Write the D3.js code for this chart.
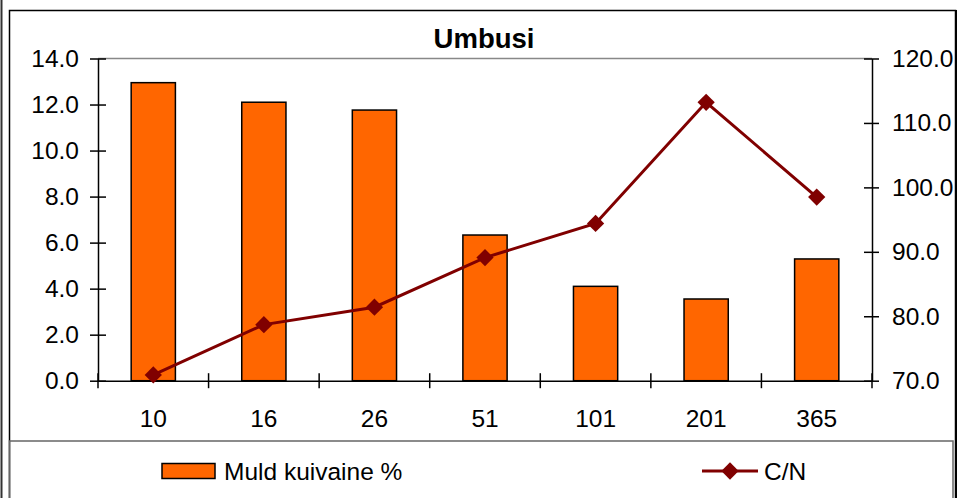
<!DOCTYPE html>
<html><head><meta charset="utf-8">
<script src="https://cdn.jsdelivr.net/npm/d3@7"></script>
<style>html,body{margin:0;padding:0;background:#fff;}svg{display:block;font-family:"Liberation Sans",Arial,sans-serif;}</style>
</head><body>
<svg id="c" width="960" height="498"></svg>
<script>
const categories = ["10","16","26","51","101","201","365"];
const muld = [12.95, 12.1, 11.76, 6.33, 4.1, 3.55, 5.29];
const cn = [70.9, 78.7, 81.4, 89.1, 94.4, 113.2, 98.5];
const leftTicks = [0,2,4,6,8,10,12,14];
const rightTicks = [70,80,90,100,110,120];
const title = "Umbusi";
const seriesNames = ["Muld kuivaine %", "C/N"];

const svg = d3.select("#c");
const L = 98, R = 872, T = 58.5, B = 380.7;

// frames
svg.append("line").attr("x1",1.5).attr("x2",1.5).attr("y1",0).attr("y2",498).attr("stroke","#333").attr("stroke-width",2);
svg.append("rect").attr("x",9.5).attr("y",10.5).attr("width",946).attr("height",500).attr("fill","none").attr("stroke","#000").attr("stroke-width",1.5);
svg.append("line").attr("x1",956).attr("x2",956).attr("y1",10).attr("y2",498).attr("stroke","#000").attr("stroke-width",2);
svg.append("rect").attr("x",9.5).attr("y",441).attr("width",943.5).attr("height",80).attr("fill","none").attr("stroke","#666").attr("stroke-width",1.5);

const x = d3.scaleBand().domain(categories).range([L,R]).paddingInner(0).paddingOuter(0);
const yL = d3.scaleLinear().domain([0,14]).range([B,T]);
const yR = d3.scaleLinear().domain([70,120]).range([B,T]);
const bw = x.bandwidth()/2.5;

// plot top border
svg.append("line").attr("x1",L).attr("x2",R).attr("y1",T).attr("y2",T).attr("stroke","#888").attr("stroke-width",1.5);

// bars
svg.selectAll("rect.bar").data(muld).join("rect").attr("class","bar")
  .attr("x",(d,i)=>x(categories[i])+x.bandwidth()/2-bw/2)
  .attr("width",bw)
  .attr("y",d=>yL(d)).attr("height",d=>B-yL(d))
  .attr("fill","#FF6600").attr("stroke","#000").attr("stroke-width",1.5);

// axes
const axL = d3.axisLeft(yL).tickValues(leftTicks).tickFormat(d3.format(".1f")).tickSizeInner(8).tickSizeOuter(0).tickPadding(11);
const gL = svg.append("g").attr("transform",`translate(${L},0)`).call(axL);
gL.selectAll(".tick line").attr("x1",8).attr("x2",-8);
const axR = d3.axisRight(yR).tickValues(rightTicks).tickFormat(d3.format(".1f")).tickSizeInner(7).tickSizeOuter(0).tickPadding(13);
const gR = svg.append("g").attr("transform",`translate(${R},0)`).call(axR);
gR.selectAll(".tick line").attr("x1",-8).attr("x2",7);
const axB = d3.axisBottom(x).tickSize(0).tickPadding(29);
const gB = svg.append("g").attr("transform",`translate(0,${B})`).call(axB);
[gL,gR,gB].forEach(g=>{
  g.selectAll(".domain").attr("stroke","#000").attr("stroke-width",1.5);
  g.selectAll(".tick line").attr("stroke","#000").attr("stroke-width",1.5);
  g.selectAll("text").attr("font-size",24.5).attr("fill","#000").attr("font-family","Liberation Sans, Arial, sans-serif");
});
// category boundary ticks
const bounds = categories.map(c=>x(c)).concat([R]);
svg.append("g").selectAll("line").data(bounds).join("line")
  .attr("x1",d=>d).attr("x2",d=>d).attr("y1",B-7.5).attr("y2",B+7.5)
  .attr("stroke","#000").attr("stroke-width",1.5);

// line
const line = d3.line().x((d,i)=>x(categories[i])+x.bandwidth()/2).y(d=>yR(d));
svg.append("path").datum(cn).attr("d",line).attr("fill","none").attr("stroke","#800000").attr("stroke-width",3);
const dia = d3.symbol().type(d3.symbolDiamond2).size(190);
svg.selectAll("path.pt").data(cn).join("path").attr("class","pt")
  .attr("d",dia).attr("transform",(d,i)=>`translate(${x(categories[i])+x.bandwidth()/2},${yR(d)})`)
  .attr("fill","#800000");

// title
svg.append("text").attr("x",484).attr("y",48).attr("text-anchor","middle").attr("font-size",27.5).attr("font-weight","bold").text(title);

// legend
svg.append("rect").attr("x",162).attr("y",463.5).attr("width",53).attr("height",15).attr("fill","#FF6600").attr("stroke","#000").attr("stroke-width",1.5);
svg.append("text").attr("x",224).attr("y",471).attr("dy","0.35em").attr("font-size",24.5).text(seriesNames[0]);
svg.append("line").attr("x1",702).attr("x2",758).attr("y1",471).attr("y2",471).attr("stroke","#800000").attr("stroke-width",3);
svg.append("path").attr("d",dia).attr("transform","translate(730,471)").attr("fill","#800000");
svg.append("text").attr("x",764).attr("y",471).attr("dy","0.35em").attr("font-size",24.5).text(seriesNames[1]);
</script>
</body></html>
